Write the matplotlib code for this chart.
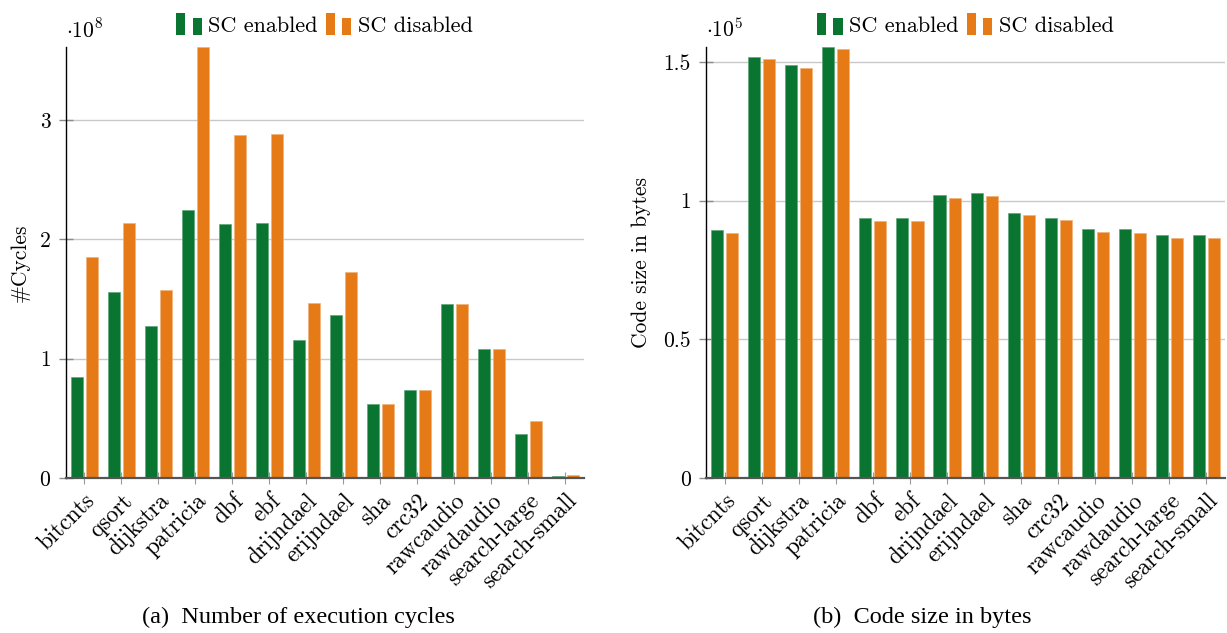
import numpy as np
import matplotlib
matplotlib.use("Agg")
import matplotlib.pyplot as plt
from matplotlib.patches import Rectangle, Patch
from matplotlib.legend_handler import HandlerBase

# Benchmarks (MiBench)
benchmarks = ["bitcnts", "qsort", "dijkstra", "patricia", "dbf", "ebf",
              "drijndael", "erijndael", "sha", "crc32", "rawcaudio",
              "rawdaudio", "search-large", "search-small"]

# Execution cycles, in units of 1e8
cycles_enabled = [0.845, 1.559, 1.271, 2.241, 2.129, 2.132, 1.154, 1.364,
                  0.620, 0.735, 1.458, 1.081, 0.366, 0.019]
cycles_disabled = [1.852, 2.137, 1.573, 3.610, 2.875, 2.883, 1.467, 1.724,
                   0.623, 0.738, 1.458, 1.081, 0.480, 0.025]

# Code size in bytes, in units of 1e5
size_enabled = [0.894, 1.518, 1.488, 1.554, 0.936, 0.936, 1.020, 1.027,
                0.955, 0.937, 0.898, 0.897, 0.876, 0.876]
size_disabled = [0.882, 1.510, 1.478, 1.547, 0.926, 0.926, 1.010, 1.017,
                 0.947, 0.930, 0.886, 0.884, 0.866, 0.866]

series_labels = ["SC enabled", "SC disabled"]
cycles_ticks = [0, 1, 2, 3]
size_ticks = [0, 0.5, 1, 1.5]

GREEN = "#0a7431"
ORANGE = "#e67a16"

plt.rcParams["font.family"] = ["cmr10"]
plt.rcParams["mathtext.fontset"] = "cm"
plt.rcParams["axes.formatter.use_mathtext"] = True

W, H = 1227, 633
fig = plt.figure(figsize=(W / 100, H / 100), dpi=100)

FS_NUM = 15.5     # y tick numbers
FS_CAT = 16.8     # category labels
FS_YLAB = 15.5    # axis titles
FS_LEG = 16       # legend


class TwoBarHandler(HandlerBase):
    """Legend entry drawn as two small bars, like a pgfplots ybar legend."""

    def create_artists(self, legend, orig_handle, xdescent, ydescent,
                       width, height, fontsize, trans):
        color = orig_handle.get_facecolor()
        w = width * 0.36
        x0, y0 = -xdescent, -ydescent - height * 0.15
        r1 = Rectangle((x0, y0), w, height * 1.3, facecolor=color,
                       edgecolor="none", transform=trans)
        r2 = Rectangle((x0 + width - w, y0), w, height * 1.0, facecolor=color,
                       edgecolor="none", transform=trans)
        return [r1, r2]


def draw_panel(rect, enabled, disabled, yticks, ylabel, exponent, label_x):
    ax = fig.add_axes(rect)
    x = np.arange(len(benchmarks))
    bw = 0.325
    off = 0.203
    ax.bar(x - off, enabled, bw, color=GREEN, edgecolor="#5fa77a",
           linewidth=0.5, zorder=3)
    ax.bar(x + off, disabled, bw, color=ORANGE, edgecolor="#f0b27a",
           linewidth=0.5, zorder=3)

    ax.set_xlim(-0.5, len(benchmarks) - 0.5)
    ax.set_ylim(0, max(max(enabled), max(disabled)))

    ax.set_yticks(yticks)
    ax.set_yticklabels([f"{t:g}" for t in yticks], fontsize=FS_NUM)
    ax.set_xticks(x)
    ax.set_xticklabels(benchmarks, rotation=45, ha="right", va="top",
                       rotation_mode="anchor", fontsize=FS_CAT)

    ax.yaxis.grid(True, color="#c9c9c9", linewidth=1.0, zorder=0)
    ax.set_axisbelow(True)

    for s in ("top", "right"):
        ax.spines[s].set_visible(False)
    ax.spines["left"].set_color("black")
    ax.spines["left"].set_linewidth(1.0)
    ax.spines["bottom"].set_color("#555555")
    ax.spines["bottom"].set_linewidth(1.6)
    ax.spines["bottom"].set_zorder(4)

    ax.tick_params(axis="x", direction="inout", length=9, width=0.8,
                   color="#9a9a9a", pad=4)
    ax.tick_params(axis="y", direction="inout", length=10, width=1.0,
                   color="#8a8a8a", pad=6)

    ax.set_ylabel(ylabel, fontsize=FS_YLAB)
    ax.yaxis.set_label_coords(label_x, 0.5)

    ax.annotate(r"$\cdot 10^{%d}$" % exponent, xy=(0, 1),
                xycoords="axes fraction", xytext=(0, 7),
                textcoords="offset points", ha="left", va="baseline",
                fontsize=FS_NUM)

    handles = [Patch(facecolor=GREEN), Patch(facecolor=ORANGE)]
    ax.legend(handles, series_labels, loc="lower center",
              bbox_to_anchor=(0.5, 1.0), ncol=2, frameon=False,
              fontsize=FS_LEG, handlelength=1.15, handleheight=0.8,
              handletextpad=0.3, columnspacing=0.35, borderpad=0,
              handler_map={Patch: TwoBarHandler()})
    return ax


ax_top, ax_bot = 47, 478
h = (ax_bot - ax_top) / H
b = 1 - ax_bot / H

draw_panel([65.7 / W, b, 518.0 / W, h], cycles_enabled, cycles_disabled,
           cycles_ticks, "#Cycles", 8, (30 - 65.7) / 518.0)
draw_panel([706.3 / W, b, 518.5 / W, h], size_enabled, size_disabled,
           size_ticks, "Code size in bytes", 5, (651 - 706.3) / 518.5)

cap_kw = dict(fontsize=17.5, family=["Liberation Serif"], ha="center",
              va="center")
fig.text(298 / W, 1 - 617 / H, "(a)  Number of execution cycles", **cap_kw)
fig.text(922 / W, 1 - 617 / H, "(b)  Code size in bytes", **cap_kw)

fig.savefig("out.png", dpi=100)
